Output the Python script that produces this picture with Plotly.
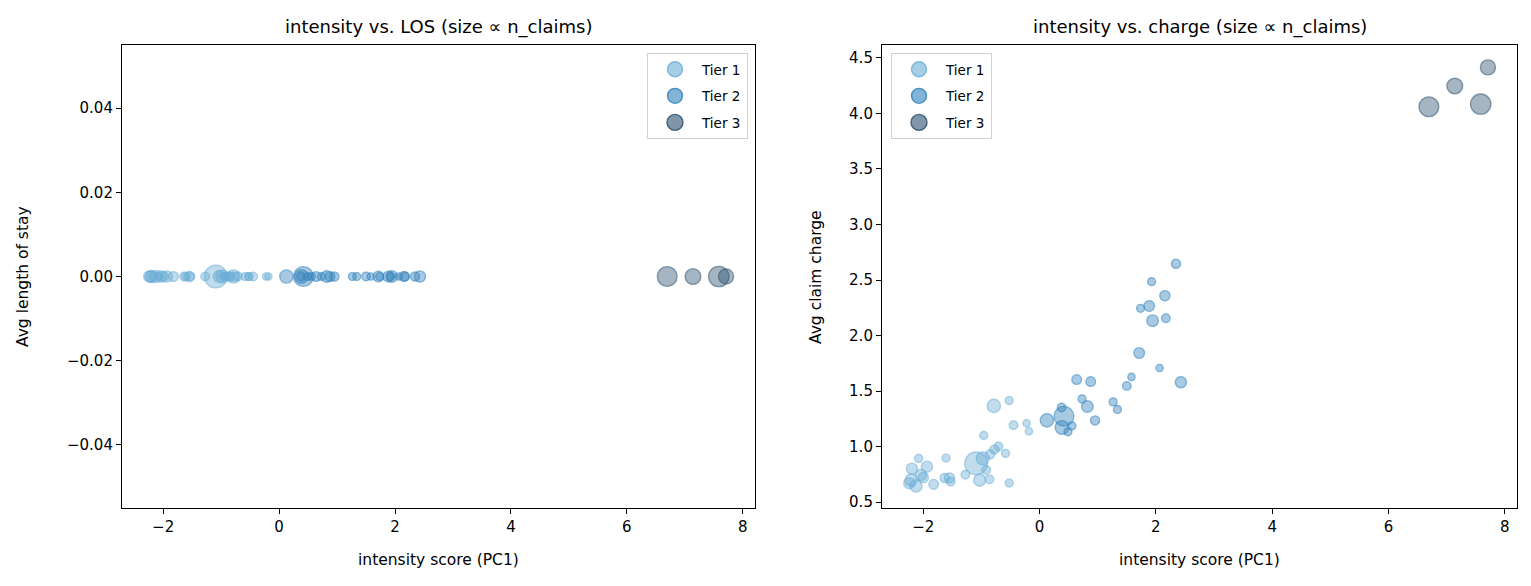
import plotly.graph_objects as go

# ---------------- data ----------------
tier_names = ["Tier 1", "Tier 2", "Tier 3"]

tier1_pc1 = [-2.21, -2.24, -2.195, -2.126, -2.04, -2.08, -1.937, -2.0, -1.822, -1.609,
             -1.632, -1.55, -1.53, -1.276, -1.092, -0.977, -1.03, -0.919, -0.862, -0.96,
             -0.707, -0.776, -0.586, -0.523, -0.787, -0.523, -0.448, -0.224, -0.184, -0.85]
tier1_charge = [0.698, 0.67, 0.80, 0.644, 0.743, 0.893, 0.818, 0.72, 0.659, 0.896,
                0.716, 0.716, 0.683, 0.746, 0.848, 0.893, 0.698, 0.788, 0.704, 1.10,
                1.0, 0.974, 0.938, 0.671, 1.366, 1.414, 1.192, 1.21, 1.138, 0.93]
tier1_los = [0.0, 0.0, 0.0, 0.0, 0.0, 0.0, 0.0, 0.0, 0.0, 0.0,
             0.0, 0.0, 0.0, 0.0, 0.0, 0.0, 0.0, 0.0, 0.0, 0.0,
             0.0, 0.0, 0.0, 0.0, 0.0, 0.0, 0.0, 0.0, 0.0, 0.0]
tier1_claims = [14, 12, 12, 14, 12, 6, 12, 10, 9, 6,
                8, 10, 7, 7, 50, 16, 14, 7, 7, 6,
                7, 8, 6, 6, 17, 6, 7, 5, 5, 8]

tier2_pc1 = [0.126, 0.379, 0.419, 0.385, 0.557, 0.488, 0.638, 0.879, 0.730, 0.822,
             0.954, 1.264, 1.339, 1.50, 1.58, 1.713, 1.736, 1.885, 1.926, 1.943,
             2.064, 2.155, 2.172, 2.345, 2.43]
tier2_charge = [1.235, 1.351, 1.273, 1.172, 1.186, 1.132, 1.603, 1.585, 1.429, 1.36,
                1.235, 1.402, 1.334, 1.546, 1.627, 1.843, 2.245, 2.265, 2.485, 2.134,
                1.708, 2.359, 2.155, 2.647, 1.579]
tier2_los = [0.0, 0.0, 0.0, 0.0, 0.0, 0.0, 0.0, 0.0, 0.0, 0.0,
             0.0, 0.0, 0.0, 0.0, 0.0, 0.0, 0.0, 0.0, 0.0, 0.0,
             0.0, 0.0, 0.0, 0.0, 0.0]
tier2_claims = [17, 7, 38, 18, 6, 6, 9, 9, 6, 13,
                8, 6, 6, 7, 5, 11, 6, 11, 6, 13,
                5, 10, 7, 8, 12]

tier3_pc1 = [6.695, 7.14, 7.586, 7.71]
tier3_charge = [4.061, 4.247, 4.085, 4.415]
tier3_los = [0.0, 0.0, 0.0, 0.0]
tier3_claims = [38, 24, 40, 22]

x_ticks = [-2, 0, 2, 4, 6, 8]
los_ticks = [-0.04, -0.02, 0.0, 0.02, 0.04]
charge_ticks = [0.5, 1.0, 1.5, 2.0, 2.5, 3.0, 3.5, 4.0, 4.5]

titles = ["intensity vs. LOS (size \u221d n_claims)", "intensity vs. charge (size \u221d n_claims)"]
x_title = "intensity score (PC1)"
y_titles = ["Avg length of stay", "Avg claim charge"]

# ---------------- styling ----------------
FONT = "DejaVu Sans"
base_rgb = [(107, 174, 214), (49, 130, 189), (43, 80, 110)]
legend_sizes = [15, 15, 17]
SIZE_K = 3.2

def fill(c):
    return "rgba(%d,%d,%d,0.6)" % c

def edge(c):
    return "rgba(%d,%d,%d,0.85)" % c

tiers = [
    (tier1_pc1, tier1_los, tier1_charge, tier1_claims),
    (tier2_pc1, tier2_los, tier2_charge, tier2_claims),
    (tier3_pc1, tier3_los, tier3_charge, tier3_claims),
]

fig = go.Figure()
for i, (px_, los, chg, n) in enumerate(tiers):
    sizes = [SIZE_K * (v ** 0.5) for v in n]
    c = base_rgb[i]
    mk = dict(size=sizes, color=fill(c), line=dict(color=edge(c), width=1.4))
    fig.add_trace(go.Scatter(x=px_, y=los, mode="markers", marker=mk, showlegend=False,
                             xaxis="x", yaxis="y", name=tier_names[i]))
    fig.add_trace(go.Scatter(x=px_, y=chg, mode="markers", marker=mk, showlegend=False,
                             xaxis="x2", yaxis="y2", name=tier_names[i]))

# legend entries
for leg in ["legend", "legend2"]:
    for i in range(3):
        c = base_rgb[i]
        fig.add_trace(go.Scatter(x=[None], y=[None], mode="markers", name=tier_names[i],
                                 marker=dict(size=legend_sizes[i], color=fill(c),
                                             line=dict(color=edge(c), width=1.4)),
                                 legend=leg, legendgroup=leg + str(i),
                                 xaxis="x" if leg == "legend" else "x2",
                                 yaxis="y" if leg == "legend" else "y2"))

W, H = 1531, 586
OFF = 8  # page body margin
def fx(p): return (p - OFF) / W
def fy(p): return 1 - (p - OFF) / H

axis_common = dict(showline=True, mirror=True, linecolor="black", linewidth=1.1,
                   ticks="outside", ticklen=5, tickwidth=1.1, tickcolor="black",
                   showgrid=False, zeroline=False, automargin=False,
                   tickfont=dict(family=FONT, size=15, color="black"))

xr = [-2.71, 8.21]
leg_common = dict(bgcolor="white", bordercolor="#d0d0d0", borderwidth=1,
                  font=dict(family=FONT, size=13.5, color="black"), itemsizing="trace",
                  itemwidth=44, tracegroupgap=6)
fig.update_layout(
    width=W, height=H,
    margin=dict(l=0, r=0, t=0, b=0),
    paper_bgcolor="white", plot_bgcolor="white",
    font=dict(family=FONT, color="black"),
    xaxis=dict(domain=[fx(122), fx(755)], range=xr, tickvals=x_ticks, anchor="y", **axis_common),
    yaxis=dict(domain=[fy(508), fy(45)], range=[-0.055, 0.055], tickvals=los_ticks,
               tickformat=".2f", anchor="x", **axis_common),
    xaxis2=dict(domain=[fx(882), fx(1517)], range=xr, tickvals=x_ticks, anchor="y2", **axis_common),
    yaxis2=dict(domain=[fy(508), fy(45)], range=[0.446, 4.617], tickvals=charge_ticks,
                tickformat=".1f", anchor="x2", **axis_common),
    legend=dict(x=fx(748), y=fy(53), xanchor="right", yanchor="top", **leg_common),
    legend2=dict(x=fx(891), y=fy(53), xanchor="left", yanchor="top", **leg_common),
)

ann = []
for cx, t in zip([438.5, 1199.5], titles):
    ann.append(dict(x=fx(cx), y=fy(27), xref="paper", yref="paper", text=t, showarrow=False,
                    xanchor="center", yanchor="middle", font=dict(family=FONT, size=18, color="black")))
for cx in [438.5, 1199.5]:
    ann.append(dict(x=fx(cx), y=fy(560), xref="paper", yref="paper", text=x_title, showarrow=False,
                    xanchor="center", yanchor="middle", font=dict(family=FONT, size=15.5, color="black")))
for cx, t in zip([23, 816], y_titles):
    ann.append(dict(x=fx(cx), y=fy(277), xref="paper", yref="paper", text=t, showarrow=False,
                    textangle=-90, xanchor="center", yanchor="middle",
                    font=dict(family=FONT, size=15.5, color="black")))
fig.update_layout(annotations=ann)

fig.write_html("out.html")
